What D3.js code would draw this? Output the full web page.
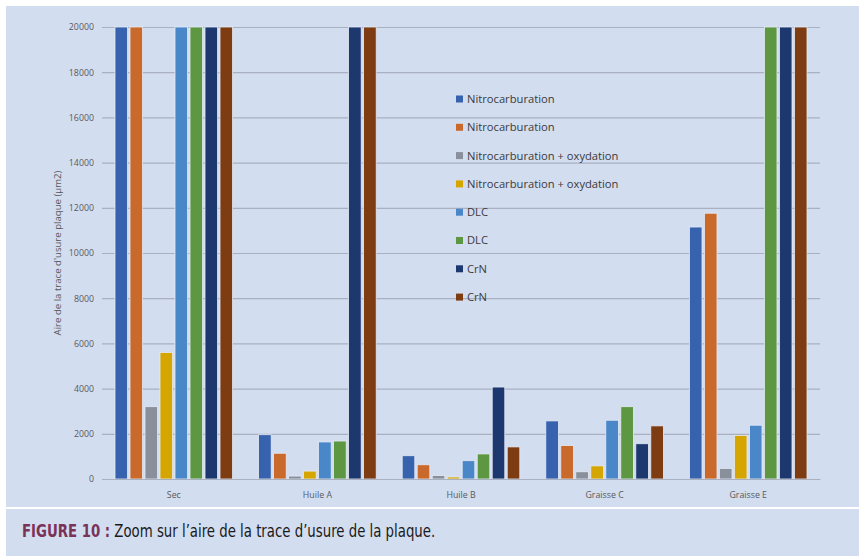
<!DOCTYPE html>
<html>
<head>
<meta charset="utf-8">
<script src="https://cdn.jsdelivr.net/npm/d3@7"></script>
<style>
  html, body { margin: 0; padding: 0; background: #ffffff; }
  svg { display: block; }
</style>
</head>
<body>
<svg id="chart" width="859" height="556"></svg>
<script>
// Lubrication conditions along the x axis
const categories = ["Sec", "Huile A", "Huile B", "Graisse C", "Graisse E"];

// Legend names for the eight coatings (each appears twice: two samples)
const seriesNames = [
  "Nitrocarburation", "Nitrocarburation",
  "Nitrocarburation + oxydation", "Nitrocarburation + oxydation",
  "DLC", "DLC", "CrN", "CrN"
];

// Wear-scar area (µm2) per series, one value per category; the axis is capped at 20000
const nitro1   = [20000, 1960, 1030, 2570, 11150];
const nitro2   = [20000, 1140,  630, 1480, 11760];
const nitrOx1  = [ 3200,  130,  150,  320,   470];
const nitrOx2  = [ 5600,  350,   90,  580,  1930];
const dlc1     = [20000, 1640,  810, 2600,  2380];
const dlc2     = [20000, 1680, 1110, 3200, 20000];
const crn1     = [20000, 20000, 4070, 1560, 20000];
const crn2     = [20000, 20000, 1420, 2350, 20000];

const seriesValues = [nitro1, nitro2, nitrOx1, nitrOx2, dlc1, dlc2, crn1, crn2];
const seriesColors = ["#3762ae", "#c96a2c", "#8a909b", "#d5a601", "#4a87c8", "#5e9741", "#1d386e", "#7e3c12"];

const yTicks = [0, 2000, 4000, 6000, 8000, 10000, 12000, 14000, 16000, 18000, 20000];

const svg = d3.select("#chart");
const W = 859, H = 556;

// Panels
svg.append("rect").attr("x", 6).attr("y", 6).attr("width", W - 6).attr("height", 501).attr("fill", "#d3ddf0");
svg.append("rect").attr("x", 6).attr("y", 509).attr("width", W - 6).attr("height", H - 509).attr("fill", "#d3ddf0");

const plot = { left: 102, right: 820, top: 27, bottom: 479 };

const x0 = d3.scaleBand().domain(categories).range([plot.left, plot.right]).paddingInner(0).paddingOuter(0);
const x1 = d3.scaleBand().domain(d3.range(seriesNames.length))
  .range([13, x0.bandwidth() - 13]).paddingInner(0.16).paddingOuter(0);
const y = d3.scaleLinear().domain([0, 20000]).range([plot.bottom, plot.top]);

const labelFont = "'Open Sans', 'Liberation Sans', sans-serif";

// Gridlines and value labels
const yAxis = d3.axisLeft(y).tickValues(yTicks).tickSize(-(plot.right - plot.left)).tickPadding(8).tickFormat(d3.format("d"));
const gy = svg.append("g").attr("transform", `translate(${plot.left},0)`).call(yAxis);
gy.select(".domain").remove();
gy.selectAll(".tick line").attr("stroke", "#a9b1c0").attr("stroke-width", 1.2);
gy.selectAll(".tick text").attr("fill", "#595959").attr("font-size", 8.8).attr("font-family", labelFont);

// Bars
const groups = svg.append("g").selectAll("g").data(categories).join("g")
  .attr("transform", d => `translate(${x0(d)},0)`);
groups.selectAll("rect")
  .data((c, ci) => seriesValues.map((vals, si) => ({ si, v: vals[ci] })))
  .join("rect")
  .attr("x", d => x1(d.si))
  .attr("width", x1.bandwidth())
  .attr("y", d => y(d.v))
  .attr("height", d => y(0) - y(d.v))
  .attr("fill", d => seriesColors[d.si])
  .attr("stroke", "#e4eaf5").attr("stroke-width", 0.8);

// Category labels
const xAxis = d3.axisBottom(x0).tickSize(0).tickPadding(13);
const gx = svg.append("g").attr("transform", `translate(0,${plot.bottom})`).call(xAxis);
gx.select(".domain").attr("stroke", "#a9b1c0").attr("stroke-width", 1.2);
gx.selectAll(".tick text").attr("fill", "#595959").attr("font-size", 8.8).attr("font-family", labelFont);

// Y axis title
svg.append("text")
  .attr("transform", `translate(61,${(plot.top + plot.bottom) / 2}) rotate(-90)`)
  .attr("text-anchor", "middle")
  .attr("fill", "#595959").attr("font-size", 9.6)
  .attr("font-family", labelFont)
  .text("Aire de la trace d'usure plaque (µm2)");

// Legend
const legend = svg.append("g").attr("transform", "translate(456,99)");
const lg = legend.selectAll("g").data(seriesNames).join("g")
  .attr("transform", (d, i) => `translate(0,${i * 28.3})`);
lg.append("rect").attr("x", 0).attr("y", -3.5).attr("width", 7).attr("height", 7)
  .attr("fill", (d, i) => seriesColors[i]);
lg.append("text").attr("x", 11).attr("y", 0).attr("dy", "0.35em")
  .attr("fill", "#3a3a3a").attr("font-size", 11.2)
  .attr("font-family", labelFont)
  .text(d => d);

// Caption, set in a narrowed sans
const cap = svg.append("text")
  .attr("transform", "translate(22,537) scale(0.87,1)")
  .attr("font-size", 17)
  .attr("font-family", "'DejaVu Sans Condensed', 'Liberation Sans', sans-serif");
cap.append("tspan").attr("font-weight", "bold").attr("fill", "#7b3257").text("FIGURE 10 :");
cap.append("tspan").attr("fill", "#1a1a1a").text(" Zoom sur l’aire de la trace d’usure de la plaque.");
</script>
</body>
</html>
